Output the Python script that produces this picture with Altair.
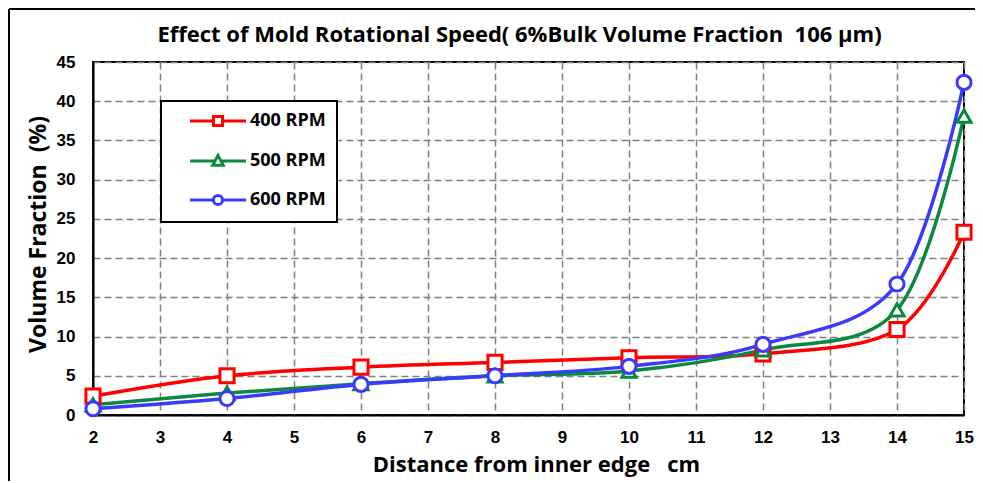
import altair as alt
import pandas as pd

# ---- data ----
distance = [2, 4, 6, 8, 10, 12, 14, 15]
rpm400 = [2.4, 5.0, 6.1, 6.7, 7.3, 7.8, 10.9, 23.3]
rpm500 = [1.3, 2.8, 4.0, 5.0, 5.6, 8.3, 13.4, 38.1]
rpm600 = [0.8, 2.1, 3.9, 5.0, 6.2, 9.0, 16.7, 42.4]
series_names = ["400 RPM", "500 RPM", "600 RPM"]
series_colors = ["#FF0000", "#0B8A3E", "#3A3AFF"]
x_ticks = list(range(2, 16))
y_ticks = list(range(0, 50, 5))

rows = []
for name, vals in zip(series_names, [rpm400, rpm500, rpm600]):
    for d, v in zip(distance, vals):
        rows.append({"distance": d, "value": v, "series": name})
df = pd.DataFrame(rows)

TITLE_FONT = "Open Sans"
TICK_FONT = "Liberation Sans"

x_enc = alt.X("distance:Q",
              scale=alt.Scale(domain=[2, 15], nice=False, zero=False),
              axis=alt.Axis(values=x_ticks, title="Distance from inner edge\u00a0\u00a0 cm",
                            titleX=443))
y_enc = alt.Y("value:Q",
              scale=alt.Scale(domain=[0, 45], nice=False),
              axis=alt.Axis(values=y_ticks, title="Volume Fraction\u00a0 (%)", titleY=172))
stroke_scale = alt.Scale(domain=series_names, range=series_colors)

legend_spec = alt.Legend(title=None, orient="none", legendX=68, legendY=39,
                         labelExpr="datum.label + '\u00a0\u00a0\u00a0\u00a0\u00a0'")

stroke_enc = alt.Stroke("series:N", scale=stroke_scale, legend=legend_spec)

base = alt.Chart(df)

legend_paths = [
    "M-4,0L-0.65,0M0.65,0L4,0M-0.65,-0.65L0.65,-0.65L0.65,0.65L-0.65,0.65Z",
    "M-4,0L-0.42,0M0.42,0L4,0M0,-0.8L0.75,0.6L-0.75,0.6Z",
    "M-4,0L-0.66,0M0.66,0L4,0M0.66,0A0.66,0.66 0 1,1 -0.66,0A0.66,0.66 0 1,1 0.66,0Z",
]

legend_layer = base.transform_filter("datum.distance < 0").mark_point(
    filled=True, fill="white", size=196, strokeWidth=3, opacity=1
).encode(
    x=x_enc, y=y_enc,
    stroke=stroke_enc,
    shape=alt.Shape("series:N", scale=alt.Scale(domain=series_names, range=legend_paths),
                    legend=legend_spec),
)

lines = base.mark_line(interpolate="cardinal", strokeWidth=3.5).encode(
    x=x_enc, y=y_enc,
    stroke=stroke_enc,
    order=alt.Order("distance:Q"),
)

marker_layers = []
for name, shp in zip(series_names, ["square", "triangle-up", "circle"]):
    marker_layers.append(
        base.transform_filter(alt.datum.series == name).mark_point(
            shape=shp, filled=True, fill="white", size=200, strokeWidth=3, opacity=1
        ).encode(
            x=x_enc, y=y_enc,
            stroke=stroke_enc,
        )
    )

border_top = alt.Chart(pd.DataFrame({"k": [0]})).mark_rule(color="black", strokeWidth=2).encode(
    x=alt.value(-84), x2=alt.value(900), y=alt.value(-53)
)
border_left = alt.Chart(pd.DataFrame({"k": [0]})).mark_rule(color="black", strokeWidth=2).encode(
    x=alt.value(-84), y=alt.value(-53), y2=alt.value(500)
)

chart = alt.layer(legend_layer, border_top, border_left, lines, *marker_layers).properties(
    width=871, height=353,
    background="white",
    autosize=alt.AutoSizeParams(type="none"),
    padding={"left": 85, "top": 54, "right": 11, "bottom": 66},
    title=alt.TitleParams(
        "Effect of Mold Rotational Speed( 6%Bulk Volume Fraction\u00a0 106 µm)",
        font=TITLE_FONT, fontSize=22, fontWeight="bold", color="black",
        anchor="middle", dx=-9, dy=53, offset=14,
    ),
).configure_view(
    stroke="black", strokeWidth=2
).configure_axis(
    domain=True, domainColor="black", domainWidth=2,
    ticks=False, labelFlush=False,
    grid=True, gridColor="#808080", gridDash=[7, 4], gridWidth=1.5,
    labelFont=TICK_FONT, labelFontSize=17, labelFontWeight="bold", labelColor="black",
    titleFont=TITLE_FONT, titleFontSize=22, titleFontWeight="bold", titleColor="black",
).configure_axisX(
    labelPadding=14, titlePadding=9,
).configure_axisY(
    labelPadding=18, titlePadding=6, titleFontSize=23,
).configure_legend(
    strokeColor="black", strokeWidth=2, fillColor="white",
    padding=11, symbolOffset=37, labelOffset=23, rowPadding=17,
    labelFont=TITLE_FONT, labelFontSize=18, labelFontWeight="bold", labelColor="black",
    symbolStrokeWidth=3, symbolSize=196,
)

chart.save("out.html", embed_options={"renderer": "svg", "actions": False})
